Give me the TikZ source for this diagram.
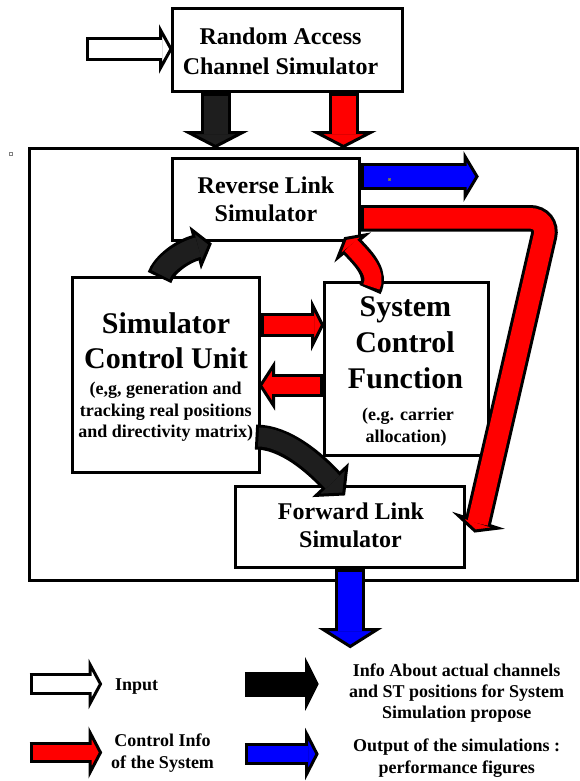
\documentclass[tikz,border=0pt]{standalone}
\usepackage{fontspec}
\setmainfont{Liberation Serif}
\usetikzlibrary{calc}

\definecolor{arrred}{RGB}{255,0,0}
\definecolor{arrblue}{RGB}{0,0,255}
\definecolor{arrdark}{RGB}{30,30,30}

% outline width of the block arrows
\newcommand\arrowol{3pt}
% block arrow: #1 fill, #2 half shaft width, #3 half head width,
% #4 shaft path (ends at the head base), #5 head base, #6 tip
\newcommand\fatarrow[6]{%
  \draw[line width={2*#2pt+\arrowol}, black] #4;
  \filldraw[fill=#1, draw=black, line width=\arrowol, line join=miter]
    ($(#5)!#3pt!90:(#6)$) -- (#6) -- ($(#5)!#3pt!-90:(#6)$) -- cycle;
  \draw[line width={2*#2pt-\arrowol}, draw=#1, shorten <=\arrowol, shorten >=-1.6pt] #4;
}

\tikzset{
  box/.style={draw, line width=3pt, fill=white, inner sep=0pt},
  ttl/.style={anchor=base, inner sep=0pt, font=\fontsize{24}{29}\selectfont\bfseries},
  big/.style={anchor=base, inner sep=0pt, font=\fontsize{30}{35}\selectfont\bfseries},
  note/.style={anchor=base, inner sep=0pt, font=\fontsize{18}{21}\selectfont\bfseries},
}

\begin{document}
\begin{tikzpicture}[x=1pt, y=-1pt]
\useasboundingbox (0,0) rectangle (579,781);

% simulator frame and blocks
\node[box, minimum width=548pt, minimum height=432.5pt] (frame) at (303,364.25) {};
\node[box, minimum width=229.5pt, minimum height=83pt] (rac) at (287.25,50.5) {};
\node[box, minimum width=187pt, minimum height=82pt] (rls) at (266,199) {};
\node[box, minimum width=187pt, minimum height=195pt] (scu) at (165.5,374.5) {};
\node[box, minimum width=164pt, minimum height=173pt] (scf) at (406,368.5) {};
\node[box, minimum width=229pt, minimum height=81pt] (fls) at (350.2,526.5) {};

% block titles
\node[ttl] (racA) at (280.5,45) {Random Access};
\node[ttl] (racB) at (280.5,75) {Channel Simulator};
\node[ttl] (rlsA) at (266,193.3) {Reverse Link};
\node[ttl] (rlsB) at (266,221.7) {Simulator};
\node[big] (scuA) at (166,333) {Simulator};
\node[big] (scuB) at (166,368) {Control Unit};
\node[note] (scuC) at (165.7,394.3) {(e,g, generation and};
\node[note] (scuD) at (165.7,416) {tracking real positions};
\node[note] (scuE) at (165.7,437.7) {and directivity matrix)};
\node[big] (scfA) at (405.4,316.7) {System};
\node[big] (scfB) at (405,352.7) {Control};
\node[big] (scfC) at (405.5,388.3) {Function};
\node[note] (scfD) at (408,420.7) {(e.g. carrier};
\node[note] (scfE) at (406,442.7) {allocation)};
\node[ttl] (flsA) at (351,519.3) {Forward Link};
\node[ttl] (flsB) at (350.5,547.3) {Simulator};

% input into the random access channel simulator
\coordinate (inT) at ($(rac.west)+(0,-1.5)$);
\coordinate (inB) at ($(inT)+(-10.5,0)$);
\coordinate (inS) at ($(inT)+(-85,0)$);
\fatarrow{white}{10.5}{19}{(inS) -- (inB)}{inB}{inT}

% channel info and control info into the frame
\coordinate (dkS) at ($(rac.south)+(-71.75,0)$);
\coordinate (dkT) at (dkS |- frame.north);
\coordinate (dkB) at ($(dkT)+(0,-14)$);
\fatarrow{arrdark}{13.5}{27}{(dkS) -- (dkB)}{dkB}{dkT}
\coordinate (rdS) at ($(rac.south)+(56.25,0)$);
\coordinate (rdT) at (rdS |- frame.north);
\coordinate (rdB) at ($(rdT)+(0,-14)$);
\fatarrow{arrred}{13.5}{27}{(rdS) -- (rdB)}{rdB}{rdT}

% reverse link output
\coordinate (boS) at ($(rls.east)+(0,-22.5)$);
\coordinate (boT) at ($(boS)+(116,0)$);
\coordinate (boB) at ($(boT)+(-12,0)$);
\fatarrow{arrblue}{12}{20}{(boS) -- (boB)}{boB}{boT}

% control loop from reverse link to forward link
\coordinate (lpS) at ($(rls.east)+(0,19.3)$);
\coordinate (lpC) at (548,218.3);
\coordinate (lpB) at ($(fls.east)+(11.8,-4.8)$);
\coordinate (lpT) at ($(fls.east)+(8.8,4.5)$);
\fatarrow{arrred}{11.8}{21}{(lpS) [rounded corners=18pt] -- (lpC) -- (lpB)}{lpB}{lpT}

% control unit to reverse link
\coordinate (crS) at ($(scu.north)+(-6,2)$);
\coordinate (crB) at (196.7,247.5);
\coordinate (crT) at (210,244);
\fatarrow{arrdark}{11.5}{18}{(crS) .. controls (164,264.7) and (182.2,251.2) .. (crB)}{crB}{crT}

% system control function to reverse link
\coordinate (frS) at ($(scf.north)+(-36,9)$);
\coordinate (frB) at (351.7,246.3);
\coordinate (frT) at (345.3,238.5);
\fatarrow{arrred}{10}{18}{(frS) .. controls (378,274) and (365,260) .. (frB)}{frB}{frT}

% exchanges between control unit and system control function
\coordinate (xaS) at ($(scu.east)+(0,-49.5)$);
\coordinate (xaT) at (xaS -| scf.west);
\coordinate (xaB) at ($(xaT)+(-10,0)$);
\fatarrow{arrred}{10.2}{20}{(xaS) -- (xaB)}{xaB}{xaT}
\coordinate (xbS) at ($(scf.west)+(0,17)$);
\coordinate (xbT) at (xbS -| scu.east);
\coordinate (xbB) at ($(xbT)+(13,0)$);
\fatarrow{arrred}{10.2}{20}{(xbS) -- (xbB)}{xbB}{xbT}

% control unit to forward link
\coordinate (cfS) at ($(scu.east)+(-5,62.5)$);
\coordinate (cfB) at (331.5,481);
\coordinate (cfT) at (343.7,494);
\fatarrow{arrdark}{11}{21}{(cfS) .. controls (285,437) and (314.5,462.5) .. (cfB)}{cfB}{cfT}

% forward link output
\coordinate (foS) at (fls.south);
\coordinate (foB) at ($(foS)+(0,61)$);
\coordinate (foT) at ($(foS)+(0,78)$);
\fatarrow{arrblue}{13.5}{27}{(foS) -- (foB)}{foB}{foT}

% small handles
\draw[gray, line width=0.6pt] (9.5,152.5) rectangle (12.5,155.5);
\filldraw[fill=gray, draw=black!60, line width=0.4pt] (388,178) rectangle (390,180);

% legend
\coordinate (lg1S) at (29.5,684);   \coordinate (lg1B) at (90,684);   \coordinate (lg1T) at (100.5,684);
\fatarrow{white}{9.5}{19.5}{(lg1S) -- (lg1B)}{lg1B}{lg1T}
\coordinate (lg2S) at (29.5,752.5); \coordinate (lg2B) at (90,752.5); \coordinate (lg2T) at (100.5,752.5);
\fatarrow{arrred}{9.3}{20}{(lg2S) -- (lg2B)}{lg2B}{lg2T}
\coordinate (lg3S) at (244.8,684);  \coordinate (lg3B) at (306.7,684); \coordinate (lg3T) at (317,684);
\fatarrow{black}{11}{20.5}{(lg3S) -- (lg3B)}{lg3B}{lg3T}
\coordinate (lg4S) at (244.8,754);  \coordinate (lg4B) at (306.7,754); \coordinate (lg4T) at (317,754);
\fatarrow{arrblue}{9.3}{20}{(lg4S) -- (lg4B)}{lg4B}{lg4T}

\node[note, anchor=base west] (lgInput) at (115,690) {Input};
\node[note] (lgCtlA) at (162.5,746) {Control Info};
\node[note] (lgCtlB) at (162.5,768.3) {of the System};
\node[note] (lgInfA) at (456.7,676.7) {Info About actual channels};
\node[note] (lgInfB) at (456.7,697.3) {and ST positions for System};
\node[note] (lgInfC) at (456.7,718.3) {Simulation propose};
\node[note] (lgOutA) at (456.7,751.7) {Output of the simulations :};
\node[note] (lgOutB) at (456.7,773.3) {performance figures};
\end{tikzpicture}
\end{document}
